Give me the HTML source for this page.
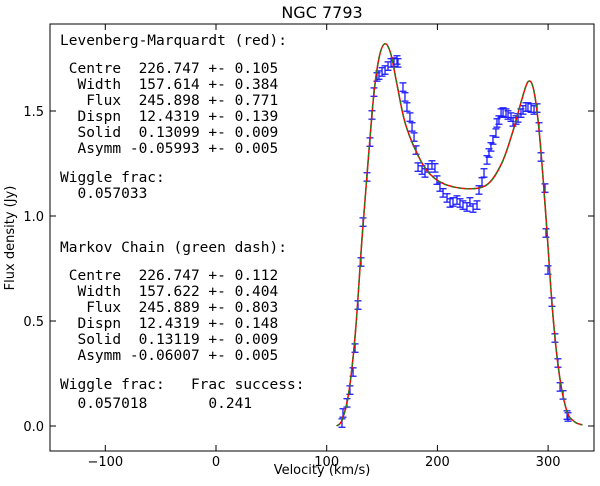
<!DOCTYPE html>
<html><head><meta charset="utf-8">
<style>
html,body{margin:0;padding:0;background:#fff;}
svg{display:block;font-family:"DejaVu Sans","Liberation Sans",sans-serif;}
.mono text{font-family:"DejaVu Sans Mono","Liberation Mono",monospace;font-size:14.5px;white-space:pre;}
</style></head>
<body>
<svg id="chart" width="600" height="486" viewBox="0 0 600 486">
<text x="322" y="18" text-anchor="middle" font-size="16">NGC 7793</text>
<rect x="50" y="24" width="544" height="427" fill="none" stroke="#000" stroke-width="1"/>
<g id="ticks"></g>
<g id="marks"></g>
<text x="322" y="474" text-anchor="middle" font-size="13">Velocity (km/s)</text>
<text transform="translate(14,238) rotate(-90)" text-anchor="middle" font-size="13">Flux density (Jy)</text>
<g class="mono">
<text xml:space="preserve" x="60" y="45">Levenberg-Marquardt (red):</text>
<text xml:space="preserve" x="60" y="73"> Centre  226.747 +- 0.105</text>
<text xml:space="preserve" x="60" y="89">  Width  157.614 +- 0.384</text>
<text xml:space="preserve" x="60" y="105">   Flux  245.898 +- 0.771</text>
<text xml:space="preserve" x="60" y="121">  Dispn  12.4319 +- 0.139</text>
<text xml:space="preserve" x="60" y="137">  Solid  0.13099 +- 0.009</text>
<text xml:space="preserve" x="60" y="153">  Asymm -0.05993 +- 0.005</text>
<text xml:space="preserve" x="60" y="182">Wiggle frac:</text>
<text xml:space="preserve" x="60" y="198">  0.057033</text>
<text xml:space="preserve" x="60" y="252">Markov Chain (green dash):</text>
<text xml:space="preserve" x="60" y="280"> Centre  226.747 +- 0.112</text>
<text xml:space="preserve" x="60" y="296">  Width  157.622 +- 0.404</text>
<text xml:space="preserve" x="60" y="312">   Flux  245.889 +- 0.803</text>
<text xml:space="preserve" x="60" y="328">  Dispn  12.4319 +- 0.148</text>
<text xml:space="preserve" x="60" y="344">  Solid  0.13119 +- 0.009</text>
<text xml:space="preserve" x="60" y="360">  Asymm -0.06007 +- 0.005</text>
<text xml:space="preserve" x="60" y="389">Wiggle frac:   Frac success:</text>
<text xml:space="preserve" x="60" y="408">  0.057018       0.241</text>
</g>
</svg>
<script>
const xTicks=[-100,0,100,200,300];
const yTicks=[0.0,0.5,1.0,1.5];
const yTickLabels=["0.0","0.5","1.0","1.5"];
const velocity=[113.8,114.7,118.3,121.0,123.8,125.6,128.3,131.0,132.8,136.4,139.1,140.9,142.7,145.4,147.2,150.0,152.7,155.4,158.1,160.8,163.5,164.4,168.9,170.7,172.5,175.2,177.1,178.9,180.7,182.5,186.1,188.8,191.5,195.1,197.8,199.6,202.3,205.1,208.7,211.4,214.1,217.7,220.4,223.1,226.7,229.4,232.2,235.8,237.6,240.3,242.1,244.8,246.6,248.4,250.2,252.9,253.8,255.6,257.5,259.3,262.0,263.8,266.5,268.3,271.0,272.8,275.5,277.3,280.0,281.8,284.6,287.3,290.0,291.8,293.6,297.2,298.1,299.9,303.5,306.2,308.9,310.8,313.5,317.1,318.0];
const flux=[0.014,0.062,0.110,0.171,0.257,0.371,0.576,0.781,0.971,1.186,1.352,1.481,1.590,1.662,1.671,1.686,1.695,1.714,1.729,1.733,1.743,1.729,1.614,1.567,1.519,1.471,1.424,1.376,1.314,1.233,1.219,1.205,1.229,1.243,1.229,1.171,1.138,1.110,1.086,1.062,1.067,1.076,1.062,1.052,1.043,1.067,1.038,1.052,1.124,1.162,1.205,1.267,1.300,1.329,1.362,1.395,1.443,1.457,1.490,1.495,1.490,1.481,1.471,1.448,1.457,1.467,1.490,1.505,1.519,1.519,1.514,1.505,1.514,1.424,1.281,1.133,0.919,0.743,0.590,0.419,0.300,0.186,0.148,0.052,0.043];
const fluxErr=0.02;
const modelV=[109,114,120,126,132,138,143,148,153,158,163,170,178,190,205,226.7,245,258,268,276,282,287,292,298,304,310,317,324,331];
const modelF=[0.0,0.03,0.16,0.45,0.90,1.30,1.60,1.77,1.82,1.77,1.64,1.46,1.34,1.22,1.155,1.13,1.15,1.25,1.40,1.55,1.64,1.60,1.40,1.00,0.55,0.25,0.07,0.02,0.005];

const NS='http://www.w3.org/2000/svg';
const X=v=>216+(v)*1.107;
const Y=f=>426-f*210;
const ticks=document.getElementById('ticks');
const marks=document.getElementById('marks');
function mk(tag,attrs,parent){const e=document.createElementNS(NS,tag);for(const k in attrs)e.setAttribute(k,attrs[k]);parent.appendChild(e);return e;}
xTicks.forEach(t=>{
  const x=X(t);
  const l=mk('line',{x1:x,x2:x,y1:451,y2:445,stroke:'#000'},ticks);
  
  
  const l2=mk('line',{x1:x,x2:x,y1:24,y2:30,stroke:'#000'},ticks);
  
  
  const tx=mk('text',{x:x,y:466,'text-anchor':'middle','font-size':13},ticks);
  tx.textContent=(t<0?'\u2212'+Math.abs(t):t);
  
  
});
yTicks.forEach((t,i)=>{
  const y=Y(t);
  const l=mk('line',{x1:50,x2:56,y1:y,y2:y,stroke:'#000'},ticks);
  
  
  const l2=mk('line',{x1:594,x2:588,y1:y,y2:y,stroke:'#000'},ticks);
  
  
  const tx=mk('text',{x:44,y:y+5,'text-anchor':'end','font-size':13},ticks);
  tx.textContent=yTickLabels[i];
  
  
});
velocity.forEach((v,i)=>{
  const x=X(v),y1=Y(flux[i]+fluxErr),y2=Y(flux[i]-fluxErr);
  const g=mk('g',{stroke:'#1a1aff','stroke-width':1.3},marks);
  
  
  mk('line',{x1:x,x2:x,y1:y1,y2:y2},g);
  mk('line',{x1:x-3.5,x2:x+3.5,y1:y1,y2:y1},g);
  mk('line',{x1:x-3.5,x2:x+3.5,y1:y2,y2:y2},g);
});
function smoothPath(){
  const p=modelV.map((v,i)=>[X(v),Y(modelF[i])]);
  let d='M'+p[0][0]+','+p[0][1];
  for(let i=0;i<p.length-1;i++){
    const p0=p[i-1]||p[i],p1=p[i],p2=p[i+1],p3=p[i+2]||p2;
    const c1=[p1[0]+(p2[0]-p0[0])/6,p1[1]+(p2[1]-p0[1])/6];
    const c2=[p2[0]-(p3[0]-p1[0])/6,p2[1]-(p3[1]-p1[1])/6];
    d+=' C'+c1[0]+','+c1[1]+' '+c2[0]+','+c2[1]+' '+p2[0]+','+p2[1];
  }
  return d;
}
const d=smoothPath();
const red=mk('path',{d:d,fill:'none',stroke:'#ff0000','stroke-width':1.5},marks);


const green=mk('path',{d:d,fill:'none',stroke:'#2a7a1a','stroke-width':1.5,'stroke-dasharray':'4,3'},marks);


</script>
</body></html>
